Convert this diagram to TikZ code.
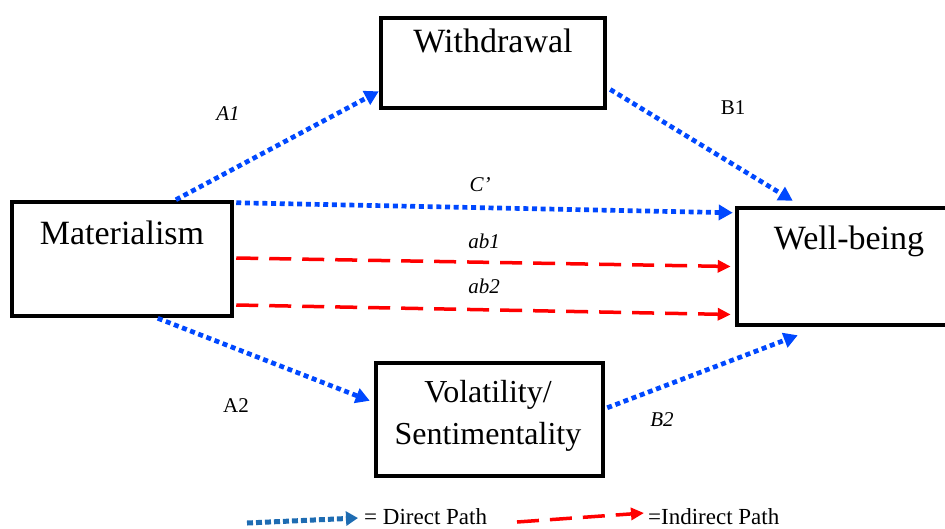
\documentclass[tikz,border=0pt]{standalone}
\usepackage{fontspec}
\setmainfont{Liberation Serif}
\usetikzlibrary{arrows.meta,calc}
\definecolor{pathblue}{RGB}{0,72,255}
\definecolor{legblue}{RGB}{30,108,178}
\definecolor{pathred}{RGB}{255,0,0}
\begin{document}
\begin{tikzpicture}[x=1pt,y=-1pt,
  box/.style={draw, line width=4.5pt, rectangle, inner sep=0pt},
  boxtext/.style={anchor=base, font=\fontsize{34}{40}\selectfont, inner sep=0pt},
  voltext/.style={anchor=base, font=\fontsize{32}{38}\selectfont, inner sep=0pt},
  lab/.style={anchor=base, font=\fontsize{21}{25}\selectfont, inner sep=0pt},
  legtext/.style={anchor=base west, font=\fontsize{23}{27}\selectfont, inner sep=0pt},
  direct/.style={pathblue, line width=4.7pt, dash pattern=on 5pt off 3.7pt, -{Triangle[length=14pt,width=15pt]}},
  indirect/.style={pathred, line width=3.5pt, dash pattern=on 22pt off 11pt, -{Triangle[length=13pt,width=12pt]}}]
\useasboundingbox (0,0) rectangle (945,528);
\clip (0,0) rectangle (945,528);

% boxes
\node[box, minimum width=224pt, minimum height=90pt] (wd) at (493,63) {};
\node[box, minimum width=220pt, minimum height=114pt] (mat) at (122,259) {};
\node[box, minimum width=224pt, minimum height=117pt] (wb) at (849,266.5) {};
\node[box, minimum width=227pt, minimum height=113pt] (vol) at (489.5,419.5) {};

% box texts
\node[boxtext] (wdt) at (493,52) {Withdrawal};
\node[boxtext] (matt) at (122,244) {Materialism};
\node[boxtext] (wbt) at (849,249) {Well-being};
\node[voltext] (volt1) at (488,402) {Volatility/};
\node[voltext] (volt2) at (488,444) {Sentimentality};

% connector end points
\coordinate (a1s) at ($(mat.north west)!0.74!(mat.north east)$);
\coordinate (a1e) at ($(wd.north west)!0.8!(wd.south west)$);
\coordinate (b1s0) at ($(wd.north east)!0.78!(wd.south east)$);
\coordinate (b1s) at ($(b1s0)+(3,0)$);
\coordinate (b1e) at ($(wb.north west)+(58,-5)$);
\coordinate (cs) at ($(mat.north east)+(2,3)$);
\coordinate (ce) at ($(wb.north west)+(-2,7)$);
\coordinate (ab1s) at ($(mat.east)+(2,-1)$);
\coordinate (ab1e) at ($(wb.west)+(-4,0)$);
\coordinate (ab2s) at ($(mat.east)+(2,46)$);
\coordinate (ab2e) at ($(wb.west)+(-4,48)$);
\coordinate (a2s) at ($(mat.south west)+(148,0)$);
\coordinate (a2e) at ($(vol.north west)+(-4,40)$);
\coordinate (b2s) at ($(vol.north east)+(2,47)$);
\coordinate (b2e) at ($(wb.south west)+(63,8)$);

% connectors
\draw[direct] (a1s) -- (a1e);
\draw[direct] (b1s) -- (b1e);
\draw[direct] (cs) -- (ce);
\draw[indirect] (ab1s) -- (ab1e);
\draw[indirect] (ab2s) -- (ab2e);
\draw[direct] (a2s) -- (a2e);
\draw[direct] (b2s) -- (b2e);

% labels
\node[lab] (la1) at (228,120) {\itshape A1};
\node[lab] (lb1) at (733,114) {B1};
\node[lab] (lc) at (480,191) {\itshape C’};
\node[lab] (lab1) at (484,248) {\itshape ab1};
\node[lab] (lab2) at (484,293) {\itshape ab2};
\node[lab] (la2) at (236,412) {A2};
\node[lab] (lb2) at (662,426) {\itshape B2};

% legend
\coordinate (l1s) at (247,523);
\coordinate (l1e) at (358,518);
\coordinate (l2s) at (517,522);
\coordinate (l2e) at (644,513);
\draw[direct, legblue, line width=5pt, dash pattern=on 6pt off 3pt, -{Triangle[length=12pt,width=14pt]}] (l1s) -- (l1e);
\node[legtext] (lt1) at (364,524) {= Direct Path};
\draw[indirect] (l2s) -- (l2e);
\node[legtext] (lt2) at (648,524) {=Indirect Path};
\end{tikzpicture}
\end{document}
